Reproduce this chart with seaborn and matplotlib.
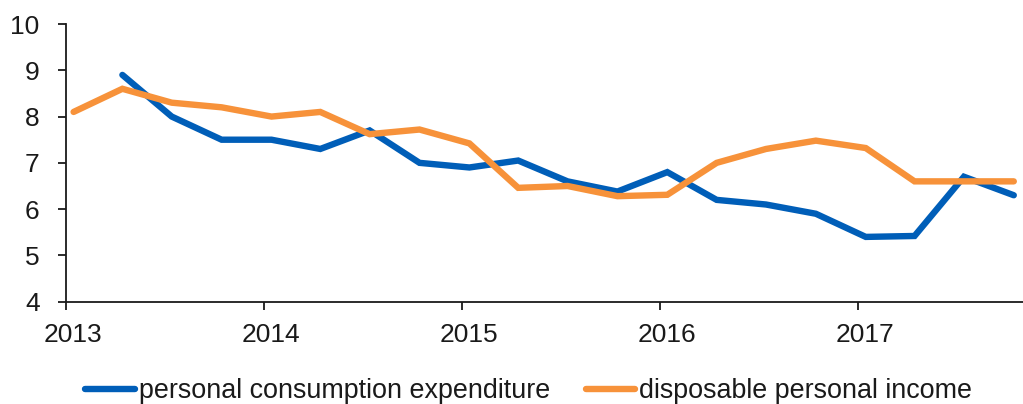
import numpy as np
import pandas as pd
import matplotlib
matplotlib.use("Agg")
import matplotlib.pyplot as plt
import matplotlib.transforms as mtransforms
import seaborn as sns

# ---- data ----
quarters = ["2013Q1", "2013Q2", "2013Q3", "2013Q4",
            "2014Q1", "2014Q2", "2014Q3", "2014Q4",
            "2015Q1", "2015Q2", "2015Q3", "2015Q4",
            "2016Q1", "2016Q2", "2016Q3", "2016Q4",
            "2017Q1", "2017Q2", "2017Q3", "2017Q4"]
pce = [np.nan, 8.9, 8.0, 7.5,
       7.5, 7.3, 7.7, 7.0,
       6.9, 7.05, 6.6, 6.38,
       6.8, 6.2, 6.1, 5.9,
       5.4, 5.42, 6.7, 6.3]
dpi_income = [8.1, 8.6, 8.3, 8.2,
              8.0, 8.1, 7.62, 7.72,
              7.42, 6.46, 6.5, 6.28,
              6.31, 7.0, 7.3, 7.48,
              7.32, 6.6, 6.6, 6.6]
series_names = ["personal consumption expenditure", "disposable personal income"]
colors = ["#005EB8", "#F7923A"]
year_ticks = ["2013", "2014", "2015", "2016", "2017"]
y_ticks = [4, 5, 6, 7, 8, 9, 10]

# ---- build table ----
dates = pd.PeriodIndex(quarters, freq="Q").to_timestamp() + pd.Timedelta(days=14)
df = pd.concat([
    pd.DataFrame({"date": dates, "value": pce, "series": series_names[0]}),
    pd.DataFrame({"date": dates, "value": dpi_income, "series": series_names[1]}),
]).dropna()

sns.set_style("white")
plt.rcParams["font.family"] = ["Liberation Sans", "DejaVu Sans"]

fig = plt.figure(figsize=(10.23, 4.04), dpi=100)
ax = fig.add_axes([66 / 1023, 1 - 301.7 / 404, 1 - 66 / 1023, (301.7 - 24) / 404])

sns.lineplot(data=df, x="date", y="value", hue="series", hue_order=series_names,
             palette=colors, linewidth=4.6, ax=ax, legend=False,
             solid_capstyle="round", solid_joinstyle="miter")

ax.set_ylim(4, 10)
ax.set_yticks(y_ticks)
ax.set_yticklabels([str(v) for v in y_ticks])
ax.set_xlim(pd.Timestamp("2013-01-01"), pd.Timestamp("2017-11-01"))
ax.set_xticks([pd.Timestamp(f"{y}-01-01") for y in year_ticks])
ax.set_xticklabels(year_ticks)
ax.set_xlabel("")
ax.set_ylabel("")

for side in ["top", "right"]:
    ax.spines[side].set_visible(False)
for side in ["left", "bottom"]:
    ax.spines[side].set_color("#1a1a1a")
    ax.spines[side].set_linewidth(1.3)

ax.tick_params(axis="both", which="major", direction="out", length=6, width=1.3,
               color="#1a1a1a", labelsize=19, labelcolor="#1a1a1a")
ax.tick_params(axis="y", pad=13)
ax.tick_params(axis="x", pad=9)
ax.tick_params(left=True, bottom=True)

offset = mtransforms.ScaledTranslation(7 / 100, 0, fig.dpi_scale_trans)
for lbl in ax.get_xticklabels():
    lbl.set_transform(lbl.get_transform() + offset)

handles = [plt.Line2D([], [], color=c, linewidth=4.6, solid_capstyle="round") for c in colors]
fig.legend(handles, series_names, loc="center", bbox_to_anchor=(0.517, 0.032),
           ncol=2, frameon=False, fontsize=19.4, handlelength=1.85,
           handletextpad=0.15, columnspacing=1.3, labelcolor="#1a1a1a")

fig.savefig("out.png", dpi=100)
